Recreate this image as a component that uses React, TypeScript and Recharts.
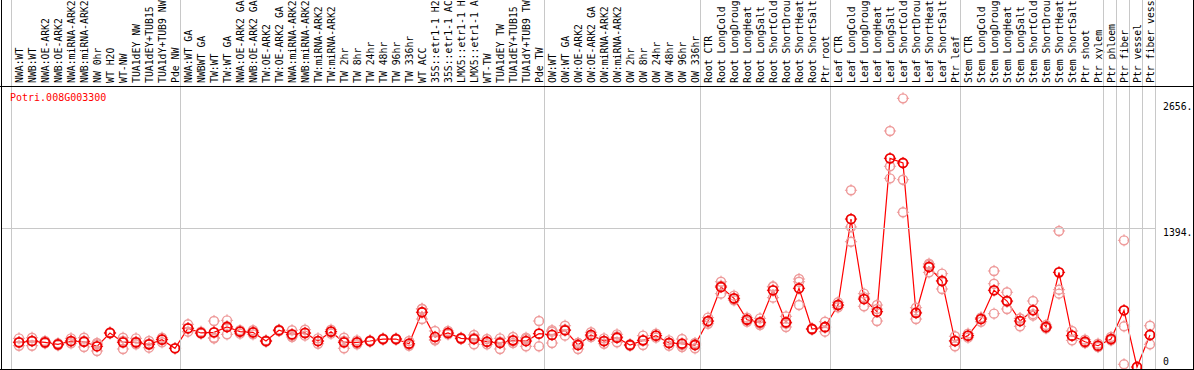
import React from 'react';
import { ComposedChart, Line, XAxis, YAxis } from 'recharts';

const geneId = 'Potri.008G003300';

const categories = [
  'NWA:WT', 'NWB:WT', 'NWA:OE-ARK2', 'NWB:OE-ARK2', 'NWA:miRNA-ARK2', 'NWB:miRNA-ARK2', 'NW 0hr', 'WT H2O', 'WT-NW', 'TUA1dEY NW', 'TUA1dEY+TUB15', 'TUA1dY+TUB9 NW', 'Pde NW',
  'NWA:WT GA', 'NWBWT GA', 'TW:WT', 'TW:WT GA', 'NWA:OE-ARK2 GA', 'NWB:OE-ARK2 GA', 'TW:OE-ARK2', 'TW:OE-ARK2 GA', 'NWA:miRNA-ARK2', 'NWB:miRNA-ARK2', 'TW:miRNA-ARK2', 'TW:miRNA-ARK2', 'TW 2hr', 'TW 8hr', 'TW 24hr', 'TW 48hr', 'TW 96hr', 'TW 336hr', 'WT ACC', '35S::etr1-1 H2', '35S::etr1-1 AC', 'LMX5::etr1-1 H', 'LMX5::etr1-1 A', 'WT-TW', 'TUA1dEY TW', 'TUA1dEY+TUB15', 'TUA1dY+TUB9 TW', 'Pde TW',
  'OW:WT', 'OW:WT GA', 'OW:OE-ARK2', 'OW:OE-ARK2 GA', 'OW:miRNA-ARK2', 'OW:miRNA-ARK2', 'OW 2hr', 'OW 8hr', 'OW 24hr', 'OW 48hr', 'OW 96hr', 'OW 336hr',
  'Root CTR', 'Root LongCold', 'Root LongDroug', 'Root LongHeat', 'Root LongSalt', 'Root ShortCold', 'Root ShortDrou', 'Root ShortHeat', 'Root ShortSalt', 'Ptr root',
  'Leaf CTR', 'Leaf LongCold', 'Leaf LongDroug', 'Leaf LongHeat', 'Leaf LongSalt', 'Leaf ShortCold', 'Leaf ShortDrou', 'Leaf ShortHeat', 'Leaf ShortSalt', 'Ptr leaf',
  'Stem CTR', 'Stem LongCold', 'Stem LongDroug', 'Stem LongHeat', 'Stem LongSalt', 'Stem ShortCold', 'Stem ShortDrou', 'Stem ShortHeat', 'Stem ShortSalt', 'Ptr shoot', 'Ptr xylem',
  'Ptr phloem', 'Ptr fiber', 'Ptr vessel', 'Ptr fiber vess',
];

const meanValues = [
  248, 261, 248, 228, 261, 254, 208, 342, 248, 248, 228, 275, 188,
  389, 342, 348, 402, 355, 348, 261, 369, 328, 342, 261, 355, 248, 248, 261, 281, 281, 234, 550, 302, 342, 288, 281, 254, 241, 268, 261, 335,
  322, 369, 221, 322, 261, 294, 221, 268, 315, 241, 234, 221,
  462, 804, 690, 475, 449, 771, 449, 791, 382, 402,
  623, 1487, 683, 556, 2097, 2050, 543, 1005, 864, 261,
  315, 482, 771, 663, 462, 570, 402, 951, 315, 254, 214,
  281, 570, 0, 322,
];

const rep1 = [
  288, 294, 261, 238, 288, 294, 241, 348, 294, 288, 261, 294, null,
  429, 355, 462, 469, 369, 369, 268, 375, 369, 375, 288, 375, 294, 268, 268, 288, 288, 261, 583, 362, 362, 295, 322, 281, 288, 302, 281, 462,
  355, 415, 241, 349, 288, 328, 228, 315, 335, 268, 281, 188,
  496, 857, 717, 496, 489, 811, 509, 884, 388, 455,
  650, 1776, 737, 623, 2372, 2700, 596, 1038, 938, 309,
  335, 496, 965, 751, 489, 663, 422, 1367, 362, 275, 234,
  301, 1273, null, 415,
];

const rep2 = [
  214, 214, 238, 218, 238, 201, 161, 338, 181, 228, 194, 248, null,
  355, 335, 294, 328, 335, 328, 255, 362, 302, 315, 234, 335, 188, 228, 255, 275, 275, 214, 482, 268, 328, 281, 228, 228, 181, 241, 208, 208,
  241, 315, 181, 302, 234, 248, 214, 221, 295, 214, 201, 241,
  435, 737, 670, 455, 422, 697, 402, 857, 376, 355,
  600, 1407, 610, 462, 2017, 1882, 482, 951, 784, 208,
  295, 455, 837, 583, 409, 516, 389, 777, 268, 241, 201,
  268, 409, null, 228,
];

const rep3 = [
  250, 265, 250, 230, 258, 262, 228, null, 262, 255, 235, 280, null,
  389, null, 288, 410, 360, 348, null, null, 315, 338, 260, 355, 262, 248, null, null, null, 228, 585, 276, 336, null, 293, 254, 254, 261, 294, null,
  370, 377, 241, 315, 261, 306, null, 268, 315, 241, 220, 234,
  455, 818, 683, 474, 436, 805, 436, 623, null, 396,
  619, 1259, 702, 583, 1896, 1555, 551, 1026, 870, 266,
  315, 495, 536, 655, 488, 531, 395, 737, 315, 246, 207,
  274, 27, null, 322,
];

const yTicks = [0, 1394, 2656];
const yTickLabels = ['0', '1394.', '2656.'];
const groupStarts = [0, 13, 41, 53, 63, 73, 84, 85, 86, 87];

const data = categories.map((name, i) => ({
  idx: i,
  name,
  mean: meanValues[i],
  r1: rep1[i],
  r2: rep2[i],
  r3: rep3[i],
}));

const FONT = '"DejaVu Sans Mono", monospace';

function Marker({ cx, cy, color, sw }: { cx: number; cy: number; color: string; sw: number }) {
  const r = 4.5;
  const t0 = r - 1;
  const t1 = r + 1.6;
  return (
    <g>
      <circle cx={cx} cy={cy} r={r} fill="none" stroke={color} strokeWidth={sw} />
      <line x1={cx} x2={cx} y1={cy - t1} y2={cy - t0} stroke={color} strokeWidth={1} />
      <line x1={cx} x2={cx} y1={cy + t0} y2={cy + t1} stroke={color} strokeWidth={1} />
      <line x1={cx - t1} x2={cx - t0} y1={cy} y2={cy} stroke={color} strokeWidth={1} />
      <line x1={cx + t0} x2={cx + t1} y1={cy} y2={cy} stroke={color} strokeWidth={1} />
    </g>
  );
}

const makeDot = (prefix: string, color: string, sw: number) => (props: any) => {
  const { cx, cy, value, index } = props;
  if (cx == null || cy == null || value == null || Number.isNaN(cy)) {
    return <g key={`${prefix}-${index}`} />;
  }
  return (
    <g key={`${prefix}-${index}`}>
      <Marker cx={cx} cy={cy} color={color} sw={sw} />
    </g>
  );
};

const REP_COLOR = '#ee9a9a';
const MEAN_COLOR = '#ee0000';

const XTick = (props: any) => {
  const { x, payload } = props;
  const i = Number(payload?.value);
  const lines: number[] = [];
  if (groupStarts.includes(i)) lines.push(x - 7.5);
  if (i === categories.length - 1) lines.push(x + 5.5);
  const tx = x + 3.5;
  const ty = 83;
  return (
    <g>
      {lines.map((lx, k) => (
        <line key={k} x1={lx} x2={lx} y1={0} y2={369} stroke="#c8c8c8" strokeWidth={1} />
      ))}
      <text
        x={tx}
        y={ty}
        transform={`rotate(-90 ${tx} ${ty})`}
        fontFamily={FONT}
        fontSize={9.8}
        fill="#000"
      >
        {categories[i]}
      </text>
    </g>
  );
};

const YTick = (props: any) => {
  const { y, payload } = props;
  const v = payload.value;
  const label = yTickLabels[yTicks.indexOf(v)];
  const ty = Math.min(y + 4, 361.5);
  return (
    <g>
      {v === 1394 ? (
        <line x1={1} x2={1156} y1={Math.round(y) + 0.5} y2={Math.round(y) + 0.5} stroke="#c8c8c8" strokeWidth={1} />
      ) : null}
      <text x={1163} y={ty} dominantBaseline="central" fontFamily={FONT} fontSize={9.8} fill="#000">
        {label}
      </text>
    </g>
  );
};

export default function App() {
  return (
    <div style={{ position: 'absolute', left: 0, top: 0, width: 1194, height: 370, background: '#fff', overflow: 'hidden' }}>
      <ComposedChart width={1194} height={370} data={data} margin={{ top: 0, right: 0, bottom: 3, left: 12.5 }}>
        <XAxis
          dataKey="idx"
          type="category"
          scale="band"
          orientation="top"
          height={86}
          interval={0}
          axisLine={false}
          tickLine={false}
          tick={<XTick />}
        />
        <YAxis
          orientation="right"
          width={37.5}
          domain={[0, 2824]}
          ticks={yTicks}
          interval={0}
          axisLine={false}
          tickLine={false}
          tick={<YTick />}
        />
        <Line dataKey="r1" stroke="none" dot={makeDot('a', REP_COLOR, 1.4)} activeDot={false} isAnimationActive={false} legendType="none" />
        <Line dataKey="r2" stroke="none" dot={makeDot('b', REP_COLOR, 1.4)} activeDot={false} isAnimationActive={false} legendType="none" />
        <Line dataKey="r3" stroke="none" dot={makeDot('c', REP_COLOR, 1.4)} activeDot={false} isAnimationActive={false} legendType="none" />
        <Line
          dataKey="mean"
          stroke="#ff0000"
          strokeWidth={1.2}
          type="linear"
          dot={makeDot('m', MEAN_COLOR, 1.8)}
          activeDot={false}
          isAnimationActive={false}
          legendType="none"
        />
      </ComposedChart>
      <svg width={1194} height={370} style={{ position: 'absolute', left: 0, top: 0, pointerEvents: 'none' }}>
        <line x1={1.5} x2={1.5} y1={0} y2={370} stroke="#000" strokeWidth={1} />
        <line x1={1193.5} x2={1193.5} y1={0} y2={370} stroke="#000" strokeWidth={1} />
        <line x1={0} x2={1194} y1={86.5} y2={86.5} stroke="#000" strokeWidth={1} />
        <line x1={0} x2={1194} y1={369.5} y2={369.5} stroke="#000" strokeWidth={1} />
        <text x={10} y={101} fontFamily={FONT} fontSize={10} fill="#ff0000">
          {geneId}
        </text>
      </svg>
    </div>
  );
}
